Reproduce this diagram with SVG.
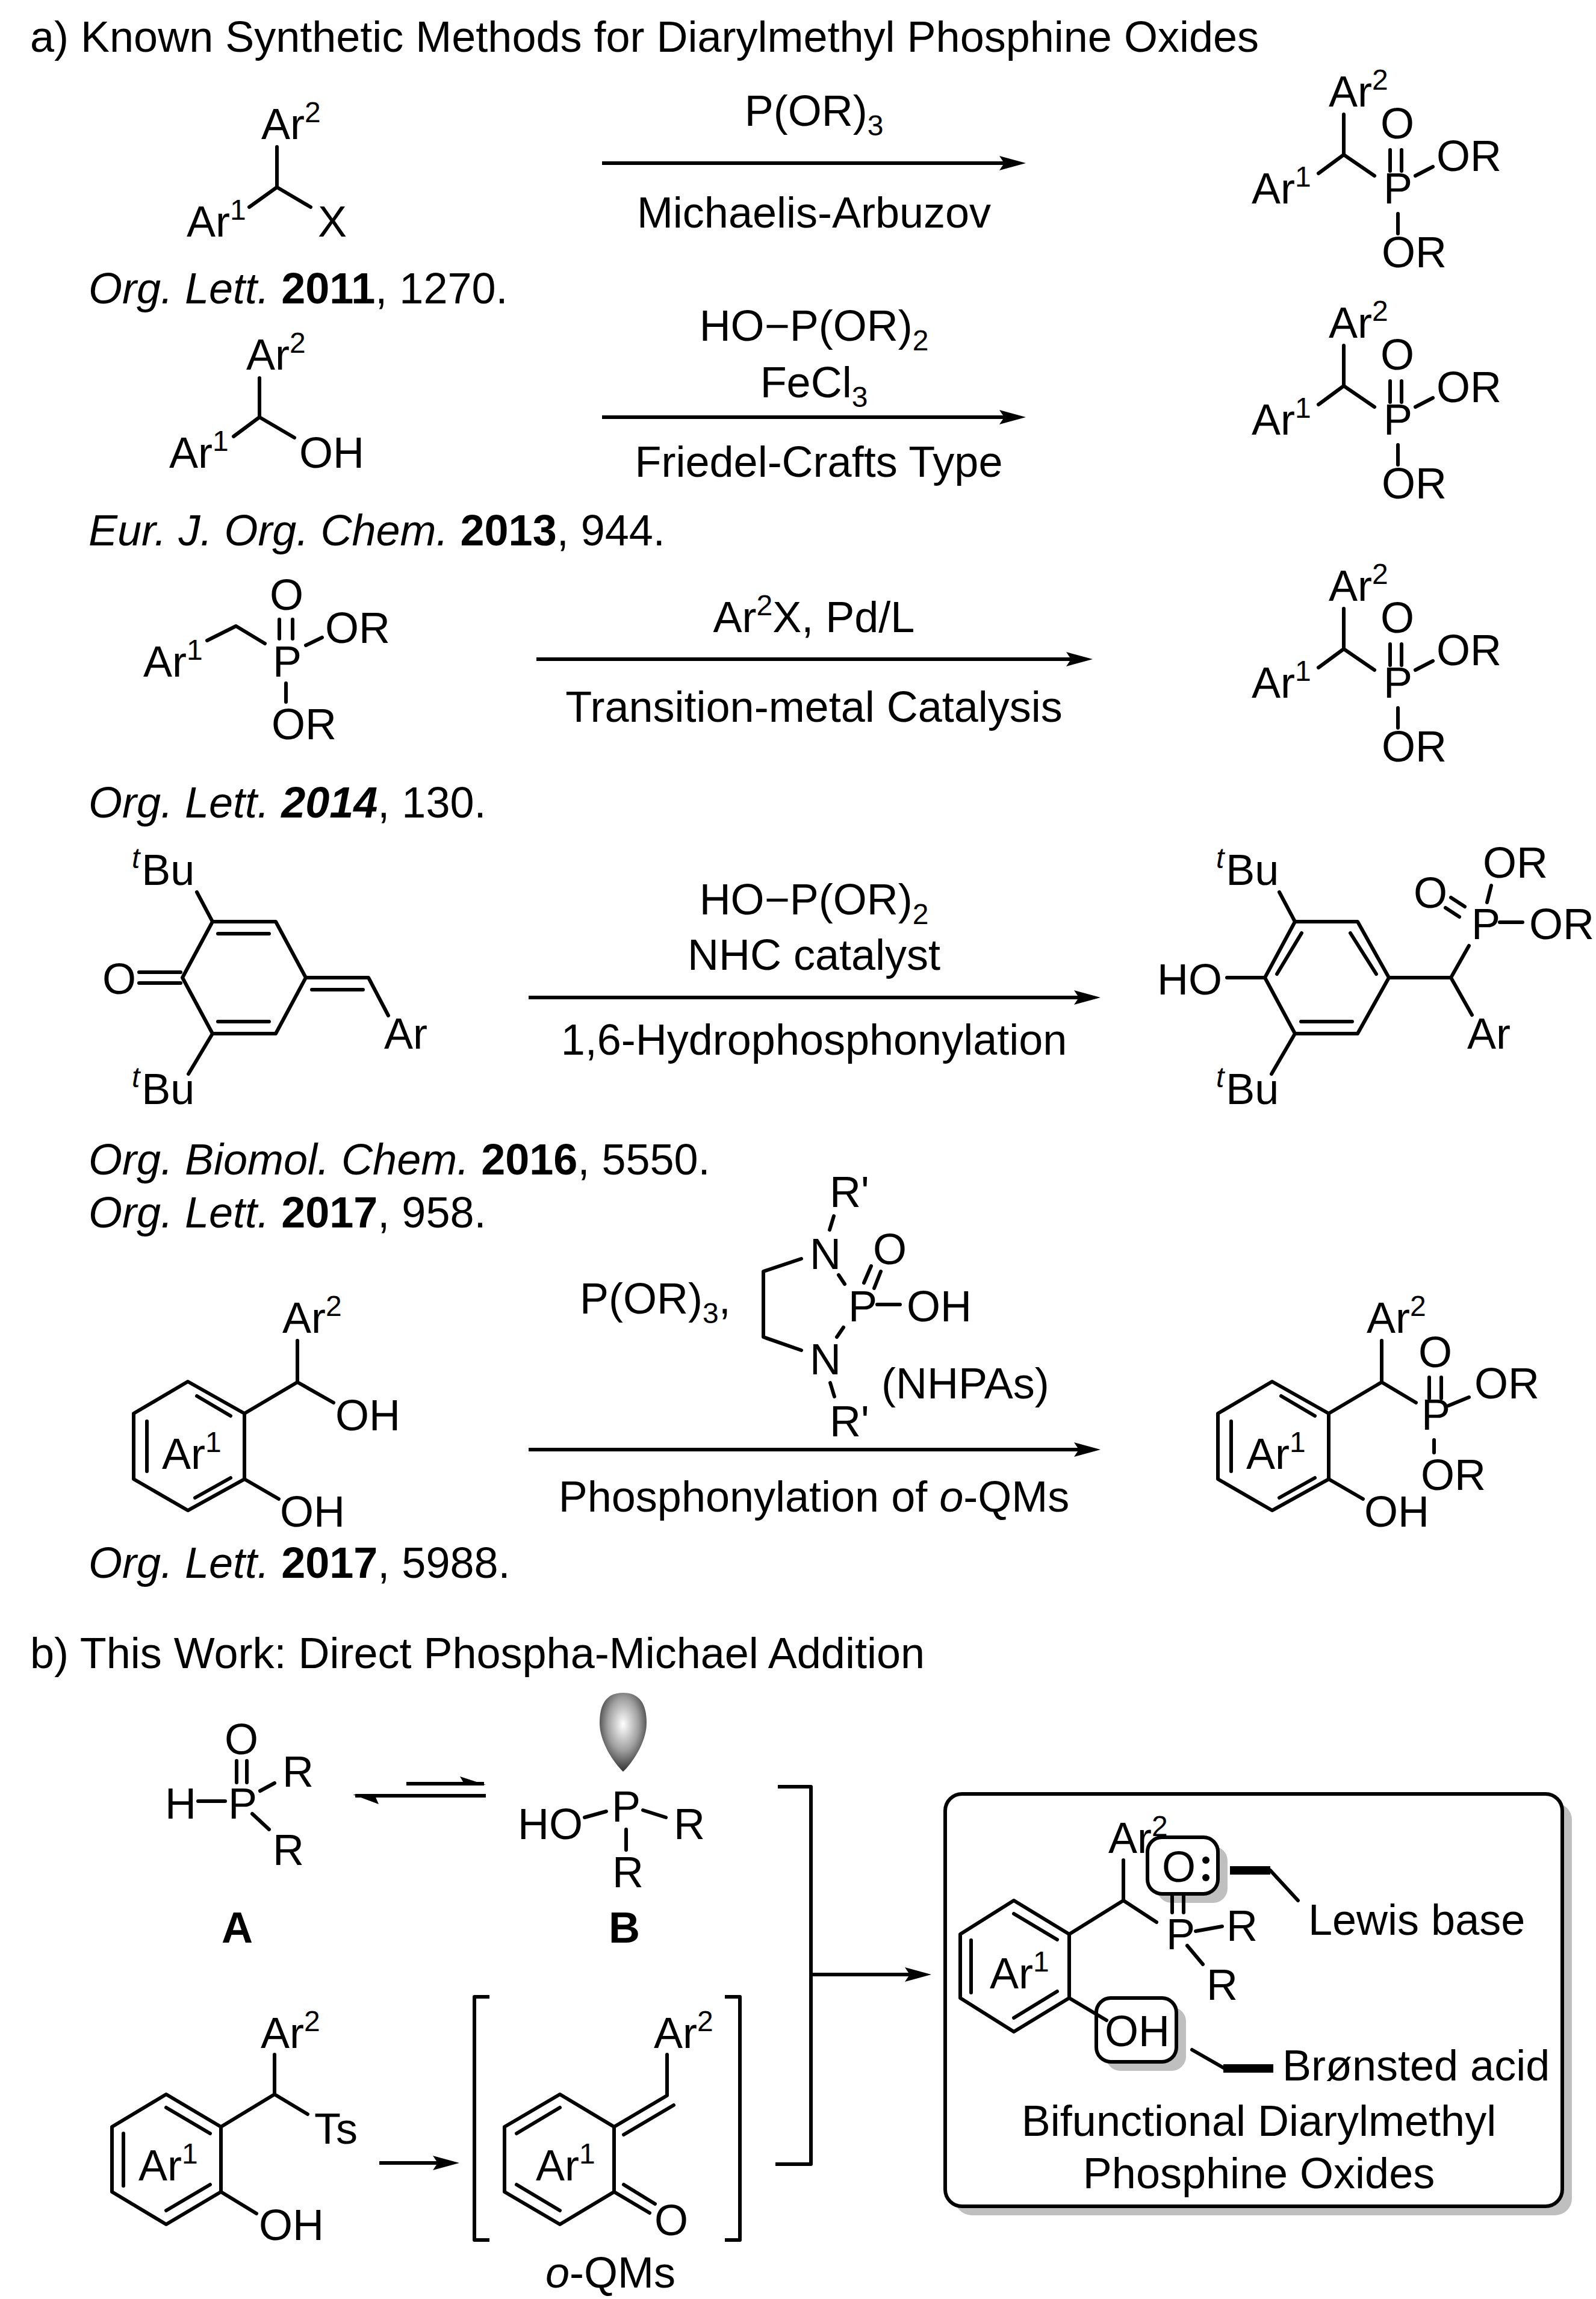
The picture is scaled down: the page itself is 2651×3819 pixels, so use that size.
<svg xmlns="http://www.w3.org/2000/svg" width="2651" height="3819" viewBox="0 0 2651 3819">
<style>
text{font-family:"Liberation Sans",Arial,sans-serif;font-size:72px;fill:#000}
.m{text-anchor:middle}
.i{font-style:italic}
.h{font-weight:bold}
.u{font-size:48px}
.d{font-size:48px}
.b{fill:none;stroke:#000;stroke-width:6;stroke-linecap:round;stroke-linejoin:round}
.a{fill:none;stroke:#000;stroke-width:6;marker-end:url(#ah)}
.w{fill:#fff;stroke:#000;stroke-width:6}
.s{fill:#bfbfbf}
.k{fill:#000}
</style>
<defs>
<marker id="ah" markerUnits="userSpaceOnUse" markerWidth="50" markerHeight="30" refX="24" refY="15" viewBox="0 0 50 30" orient="auto"><path d="M44 15L0 3L8 15L0 27Z" fill="#000"/></marker>
<radialGradient id="orb" cx="0.5" cy="0.4" r="0.6"><stop offset="0" stop-color="#ffffff"/><stop offset="0.55" stop-color="#a0a0a0"/><stop offset="1" stop-color="#303030"/></radialGradient>
</defs>
<rect width="2651" height="3819" fill="#fff"/>

<g id="title-a"><text x="50" y="86">a) Known Synthetic Methods for Diarylmethyl Phosphine Oxides</text></g>

<g id="connectors">
<line class="a" x1="1000" y1="271" x2="1684" y2="271"/>
<line class="a" x1="1000" y1="693" x2="1684" y2="693"/>
<line class="a" x1="891" y1="1095" x2="1795" y2="1095"/>
<line class="a" x1="878" y1="1657" x2="1808" y2="1657"/>
<line class="a" x1="878" y1="2408" x2="1808" y2="2408"/>
<line class="a" x1="630" y1="3593" x2="743" y2="3593"/>
<line class="a" x1="1347" y1="3280" x2="1527" y2="3280"/>
<path class="b" style="stroke-linecap:butt" d="M675 2963H804M807 2983H590"/>
<path class="k" d="M807 2965L764 2951L772 2965ZM586 2981L629 2997L622 2981Z"/>
</g>

<g id="mol-1">
<text x="434" y="231">Ar<tspan class="u" dy="-28">2</tspan></text>
<path class="b" d="M460 244V311M414 344L460 311L516 344"/>
<text x="310" y="393">Ar<tspan class="u" dy="-28">1</tspan></text>
<text x="528" y="393">X</text>
</g>
<g id="ref-1"><text x="147" y="504"><tspan class="i">Org. Lett.</tspan> <tspan class="h">2011</tspan>, 1270.</text></g>
<g id="cond-1">
<text class="m" x="1352" y="209">P(OR)<tspan class="d" dy="16">3</tspan></text>
<text class="m" x="1352" y="378">Michaelis-Arbuzov</text>
</g>
<g id="prod-1">
<text x="2207" y="177">Ar<tspan class="u" dy="-28">2</tspan></text>
<path class="b" d="M2232 190V257M2190 288L2232 257L2283 292M2309 249V284M2328 249V284M2351 292L2380 277M2322 355V388"/>
<text x="2079" y="338">Ar<tspan class="u" dy="-28">1</tspan></text>
<text x="2298" y="338">P</text><text x="2293" y="230">O</text><text x="2386" y="284">OR</text><text x="2295" y="444">OR</text>
</g>

<g id="mol-2">
<text x="409" y="614">Ar<tspan class="u" dy="-28">2</tspan></text>
<path class="b" d="M431 628V693M388 725L431 693L489 727"/>
<text x="281" y="777">Ar<tspan class="u" dy="-28">1</tspan></text>
<text x="497" y="777">OH</text>
</g>
<g id="ref-2"><text x="147" y="906"><tspan class="i">Eur. J. Org. Chem.</tspan> <tspan class="h">2013</tspan>, 944.</text></g>
<g id="cond-2">
<text class="m" x="1352" y="566">HO−P(OR)<tspan class="d" dy="16">2</tspan></text>
<text class="m" x="1352" y="660">FeCl<tspan class="d" dy="16">3</tspan></text>
<text class="m" x="1360" y="792">Friedel-Crafts Type</text>
</g>
<g id="prod-2" transform="translate(0,384)">
<text x="2207" y="177">Ar<tspan class="u" dy="-28">2</tspan></text>
<path class="b" d="M2232 190V257M2190 288L2232 257L2283 292M2309 249V284M2328 249V284M2351 292L2380 277M2322 355V388"/>
<text x="2079" y="338">Ar<tspan class="u" dy="-28">1</tspan></text>
<text x="2298" y="338">P</text><text x="2293" y="230">O</text><text x="2386" y="284">OR</text><text x="2295" y="444">OR</text>
</g>

<g id="mol-3">
<text x="448" y="1013">O</text>
<path class="b" d="M464 1029V1061M486 1029V1061M344 1064L392 1040L440 1069M508 1072L535 1059M475 1135V1166"/>
<text x="453" y="1124">P</text><text x="540" y="1068">OR</text><text x="451" y="1228">OR</text>
<text x="238" y="1124">Ar<tspan class="u" dy="-28">1</tspan></text>
</g>
<g id="ref-3"><text x="147" y="1358"><tspan class="i">Org. Lett.</tspan> <tspan class="h i">2014</tspan>, 130.</text></g>
<g id="cond-3">
<text class="m" x="1352" y="1050">Ar<tspan class="u" dy="-28">2</tspan><tspan dy="28">X, Pd/L</tspan></text>
<text class="m" x="1352" y="1199">Transition-metal Catalysis</text>
</g>
<g id="prod-3" transform="translate(0,821)">
<text x="2207" y="177">Ar<tspan class="u" dy="-28">2</tspan></text>
<path class="b" d="M2232 190V257M2190 288L2232 257L2283 292M2309 249V284M2328 249V284M2351 292L2380 277M2322 355V388"/>
<text x="2079" y="338">Ar<tspan class="u" dy="-28">1</tspan></text>
<text x="2298" y="338">P</text><text x="2293" y="230">O</text><text x="2386" y="284">OR</text><text x="2295" y="444">OR</text>
</g>

<g id="mol-4" transform="translate(0,12)">
<text x="219" y="1458"><tspan class="u i" dy="-28">t</tspan><tspan dy="28" dx="3">Bu</tspan></text>
<text x="219" y="1822"><tspan class="u i" dy="-28">t</tspan><tspan dy="28" dx="3">Bu</tspan></text>
<path class="b" d="M303 1612L353 1519H458L508 1612L458 1705H353ZM362 1539H447M362 1685H447M508 1612H612L645 1675M518 1632H603M231 1603H300M231 1621H300M327 1470L353 1519M313 1772L353 1705"/>
<text x="170" y="1639">O</text><text x="638" y="1730">Ar</text>
</g>
<g id="ref-4" transform="translate(0,12)">
<text x="147" y="1939"><tspan class="i">Org. Biomol. Chem.</tspan> <tspan class="h">2016</tspan>, 5550.</text>
<text x="147" y="2027"><tspan class="i">Org. Lett.</tspan> <tspan class="h">2017</tspan>, 958.</text>
</g>
<g id="cond-4" transform="translate(0,12)">
<text class="m" x="1352" y="1507">HO−P(OR)<tspan class="d" dy="16">2</tspan></text>
<text class="m" x="1352" y="1599">NHC catalyst</text>
<text class="m" x="1352" y="1740">1,6-Hydrophosphonylation</text>
</g>
<g id="prod-4" transform="translate(0,12)">
<text x="2020" y="1458"><tspan class="u i" dy="-28">t</tspan><tspan dy="28" dx="3">Bu</tspan></text>
<text x="2020" y="1822"><tspan class="u i" dy="-28">t</tspan><tspan dy="28" dx="3">Bu</tspan></text>
<path class="b" d="M2101 1612L2151 1519H2255L2307 1612L2255 1705H2151ZM2243 1538L2286 1606M2161 1685H2246M2121 1606L2162 1538M2038 1612H2101M2125 1470L2151 1519M2112 1772L2151 1705M2307 1612H2410L2440 1559M2410 1612L2445 1674M2491 1520H2529M2410 1479L2433 1494M2401 1496L2424 1511M2477 1459L2470 1487"/>
<text x="1922" y="1640">HO</text><text x="2437" y="1730">Ar</text><text x="2444" y="1548">P</text><text x="2540" y="1548">OR</text><text x="2348" y="1496">O</text><text x="2463" y="1446">OR</text>
</g>

<g id="reagent-5" transform="translate(0,12)">
<text x="963" y="2170">P(OR)<tspan class="d" dy="16">3</tspan><tspan dy="-16">,</tspan></text>
<text x="1378" y="1993">R'</text><text x="1345" y="2096">N</text><text x="1450" y="2088">O</text><text x="1409" y="2183">P</text><text x="1506" y="2183">OH</text><text x="1345" y="2271">N</text><text x="1378" y="2374">R'</text><text x="1464" y="2311">(NHPAs)</text>
<path class="b" d="M1385 2008L1378 2031M1447 2091L1435 2119M1463 2100L1452 2128M1457 2155H1495M1393 2106L1403 2121M1401 2193L1390 2209M1379 2285L1386 2308M1331 2079L1268 2100V2209L1331 2231"/>
</g>
<g id="mol-5" transform="translate(0,12)">
<path class="b" d="M312 2283L406 2336V2445L312 2497L222 2445V2336ZM327 2307L383 2340M324 2476L383 2443M244 2349V2432M406 2336L494 2284V2215M494 2284L554 2318M406 2445L463 2478"/>
<text x="269" y="2428">Ar<tspan class="u" dy="-28">1</tspan></text>
<text x="469" y="2202">Ar<tspan class="u" dy="-28">2</tspan></text>
<text x="557" y="2364">OH</text><text x="465" y="2524">OH</text>
</g>
<g id="ref-5" transform="translate(0,12)"><text x="147" y="2609"><tspan class="i">Org. Lett.</tspan> <tspan class="h">2017</tspan>, 5988.</text></g>
<g id="cond-5" transform="translate(0,12)"><text class="m" x="1352" y="2499">Phosphonylation of <tspan class="i">o</tspan>-QMs</text></g>
<g id="prod-5" transform="translate(0,12)">
<path class="b" d="M2113 2283L2207 2336V2445L2113 2497L2023 2445V2336ZM2128 2307L2184 2340M2125 2476L2184 2443M2045 2349V2432M2207 2336L2295 2284V2215M2295 2284L2352 2318M2207 2445L2264 2478M2374 2276V2311M2394 2276V2311M2406 2323L2440 2309M2382 2380V2401"/>
<text x="2070" y="2428">Ar<tspan class="u" dy="-28">1</tspan></text>
<text x="2270" y="2202">Ar<tspan class="u" dy="-28">2</tspan></text>
<text x="2361" y="2363">P</text><text x="2356" y="2259">O</text><text x="2449" y="2311">OR</text><text x="2360" y="2463">OR</text><text x="2266" y="2524">OH</text>
</g>

<g id="title-b"><text x="50" y="2771">b) This Work: Direct Phospha-Michael Addition</text></g>

<g id="mol-A">
<text x="373" y="2914">O</text><text x="379" y="3021">P</text><text x="274" y="3021">H</text><text x="469" y="2968">R</text><text x="453" y="3098">R</text>
<path class="b" d="M393 2925V2961M410 2925V2961M329 2992H374M432 2975L456 2962M419 3013L447 3039"/>
<text class="h" x="368" y="3227">A</text>
</g>
<g id="mol-B">
<path d="M1035 2812C1062 2812 1074 2830 1074 2862C1074 2895 1049 2930 1035 2943C1021 2930 996 2895 996 2862C996 2830 1008 2812 1035 2812Z" fill="url(#orb)"/>
<text x="1016" y="3026">P</text><text x="860" y="3055">HO</text><text x="1119" y="3055">R</text><text x="1017" y="3135">R</text>
<path class="b" d="M971 3019L1007 3009M1068 3007L1106 3019M1040 3039V3073"/>
<text class="h" x="1011" y="3227">B</text>
</g>
<g id="bracket-big"><path class="b" style="stroke-linecap:butt" d="M1292 2968H1347V3595H1288"/></g>

<g id="mol-6">
<path class="b" d="M276 3479L367 3533V3641L276 3695L186 3641V3533ZM276 3501L349 3544M276 3672L349 3629M205 3544V3631M367 3533L456 3479V3413M456 3479L511 3512M367 3641L426 3677"/>
<text x="230" y="3622">Ar<tspan class="u" dy="-28">1</tspan></text>
<text x="433" y="3402">Ar<tspan class="u" dy="-28">2</tspan></text>
<text x="522" y="3561">Ts</text><text x="430" y="3721">OH</text>
</g>
<g id="o-QM">
<path class="b" style="stroke-linecap:butt" d="M813 3317H788V3721H813M1204 3317H1229V3721H1204"/>
<path class="b" d="M930 3479L1020 3533V3641L930 3695L838 3641V3533ZM930 3501L858 3544M858 3629L930 3672M1020 3533L1108 3481V3413M1036 3546L1119 3497M1020 3641L1079 3676M1036 3629L1088 3661"/>
<text x="890" y="3622">Ar<tspan class="u" dy="-28">1</tspan></text>
<text x="1086" y="3402">Ar<tspan class="u" dy="-28">2</tspan></text>
<text x="1087" y="3713">O</text>
<text x="906" y="3800"><tspan class="i">o</tspan>-QMs</text>
</g>

<g id="box-product">
<rect class="s" x="1586" y="2995" width="1025" height="685" rx="28"/>
<rect class="w" x="1570" y="2980" width="1025" height="685" rx="28"/>
<text x="1841" y="3078">Ar<tspan class="u" dy="-28">2</tspan></text>
<rect class="s" x="1922" y="3067" width="117" height="94" rx="24"/>
<rect class="w" x="1906" y="3052" width="117" height="94" rx="24"/>
<text x="1930" y="3126">O</text>
<circle class="k" cx="2003" cy="3090" r="6"/><circle class="k" cx="2003" cy="3119" r="6"/>
<rect class="s" x="1837" y="3334" width="133" height="106" rx="24"/>
<rect class="w" x="1821" y="3319" width="133" height="106" rx="24"/>
<text x="1835" y="3399">OH</text>
<path class="b" d="M1684 3157L1776 3213V3319L1684 3375L1595 3319V3213ZM1684 3179L1756 3222M1684 3352L1756 3308M1613 3223V3310M1776 3213L1866 3157V3090M1866 3157L1921 3193M1947 3146V3177M1966 3146V3177M1986 3208L2030 3200M1972 3232L1998 3263M1776 3319L1838 3356M2110 3107L2156 3157M1980 3405L2034 3436"/>
<path class="b" style="stroke-width:14;stroke-linecap:butt" d="M2043 3107H2110M2032 3436H2115"/>
<text x="1644" y="3303">Ar<tspan class="u" dy="-28">1</tspan></text>
<text x="1937" y="3238">P</text><text x="2037" y="3224">R</text><text x="2004" y="3322">R</text>
<text x="2173" y="3214">Lewis base</text>
<text x="2130" y="3456">Brønsted acid</text>
<text class="m" x="2091" y="3548">Bifunctional Diarylmethyl</text>
<text class="m" x="2091" y="3635">Phosphine Oxides</text>
</g>
</svg>
